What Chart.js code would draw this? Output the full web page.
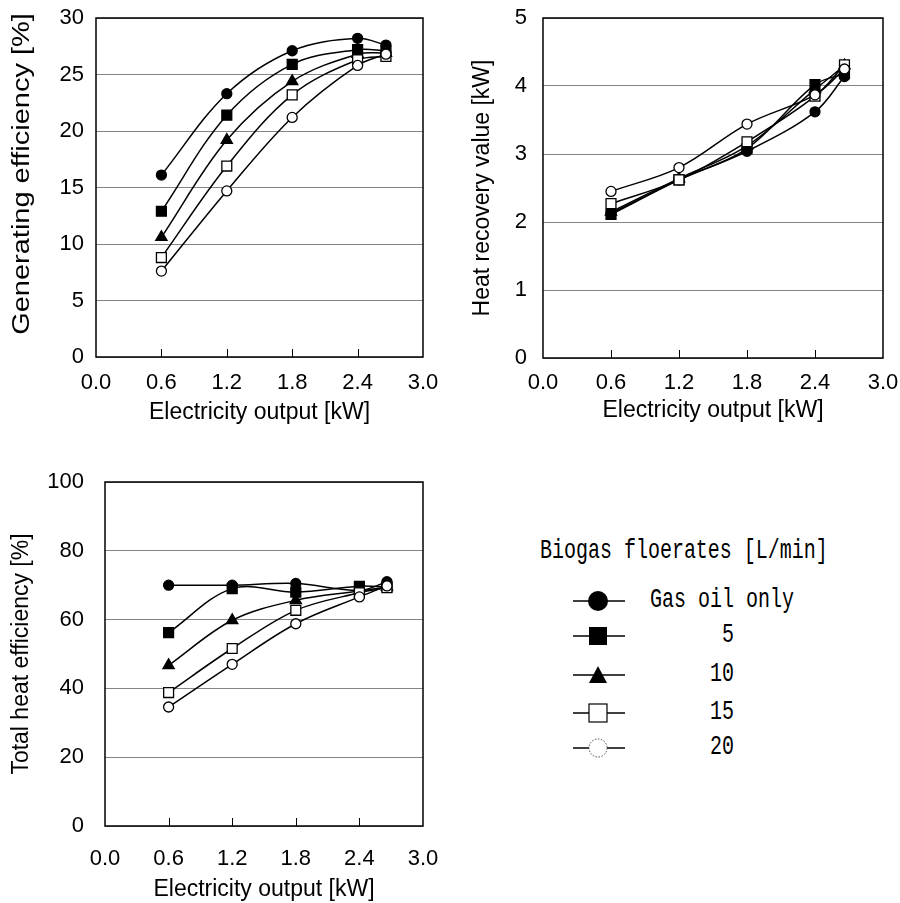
<!DOCTYPE html>
<html><head><meta charset="utf-8">
<script src="https://cdn.jsdelivr.net/npm/chart.js@4"></script>
<style>
html,body{margin:0;padding:0;background:#fff}
body{width:900px;height:903px;position:relative;overflow:hidden}
canvas{position:absolute}
.lg{position:absolute;font-family:"Liberation Mono","DejaVu Sans Mono",monospace;font-size:27px;line-height:27px;white-space:pre;transform:scaleX(0.74);transform-origin:0 50%;color:#000}
#icons{position:absolute;left:560px;top:580px}
</style></head><body>
<canvas id="c1" width="450" height="430" style="left:0;top:0"></canvas>
<canvas id="c2" width="450" height="430" style="left:450px;top:0"></canvas>
<canvas id="c3" width="450" height="463" style="left:0;top:440px"></canvas>
<div class="lg" style="left:540px;top:538px">Biogas floerates [L/min]</div>
<div class="lg" style="left:650px;top:587px">Gas oil only</div>
<div class="lg" style="left:650px;top:622px">      5</div>
<div class="lg" style="left:650px;top:661px">     10</div>
<div class="lg" style="left:650px;top:699px">     15</div>
<div class="lg" style="left:650px;top:734px">     20</div>
<svg id="icons" width="80" height="190" viewBox="0 0 80 190">
  <g stroke="#000" stroke-width="1.5">
    <line x1="13" y1="21" x2="65" y2="21"/>
    <line x1="13" y1="56" x2="65" y2="56"/>
    <line x1="13" y1="95" x2="65" y2="95"/>
    <line x1="13" y1="133" x2="65" y2="133"/>
    <line x1="13" y1="168" x2="29" y2="168"/>
    <line x1="47" y1="168" x2="65" y2="168"/>
  </g>
  <circle cx="38" cy="21" r="10" fill="#000"/>
  <rect x="29" y="47" width="18" height="18" fill="#000"/>
  <polygon points="38,86 47,103 29,103" fill="#000"/>
  <rect x="29" y="124" width="18" height="18" fill="#fff" stroke="#000" stroke-width="1.2"/>
  <circle cx="38" cy="168" r="9" fill="#fff" stroke="#444" stroke-width="1" stroke-dasharray="1.5 1.5"/>
</svg>
<script>
// ---------- data ----------
const xValues = [0.6, 1.2, 1.8, 2.4, 2.66];
const xTickLabels = ['0.0', '0.6', '1.2', '1.8', '2.4', '3.0'];
const seriesNames = ['Gas oil only', '5', '10', '15', '20'];

// Generating efficiency [%]
const genEffGasOil = [16.1, 23.3, 27.1, 28.2, 27.6];
const genEff5      = [12.9, 21.4, 25.9, 27.2, 27.1];
const genEff10     = [10.6, 19.2, 24.4, 26.8, 26.9];
const genEff15     = [8.8, 16.9, 23.2, 26.3, 26.6];
const genEff20     = [7.6, 14.7, 21.2, 25.8, 26.8];

// Heat recovery value [kW]
const heatRecGasOil = [2.13, 2.62, 3.04, 3.62, 4.14];
const heatRec5      = [2.11, 2.62, 3.08, 4.02, 4.18];
const heatRec10     = [2.15, 2.64, 3.12, 3.95, 4.30];
const heatRec15     = [2.27, 2.62, 3.18, 3.85, 4.31];
const heatRec20     = [2.45, 2.80, 3.44, 3.87, 4.25];

// Total heat efficiency [%]
const totEffGasOil = [70.0, 70.0, 70.5, 68.5, 71.0];
const totEff5      = [56.2, 69.0, 68.0, 69.7, 69.5];
const totEff10     = [46.7, 59.8, 65.6, 68.3, 69.5];
const totEff15     = [38.8, 51.6, 62.7, 67.8, 69.3];
const totEff20     = [34.6, 47.0, 58.8, 66.6, 69.8];

// ---------- styling ----------
Chart.defaults.font.family = '"Liberation Sans", Arial, sans-serif';
Chart.defaults.color = '#000';

const markerStyles = [
  {pointStyle: 'circle',   radius: 5,   fill: '#000'},
  {pointStyle: 'rect',     radius: 7,   fill: '#000'},
  {pointStyle: 'triangle', radius: 6.5, fill: '#000'},
  {pointStyle: 'rect',     radius: 7,   fill: '#fff'},
  {pointStyle: 'circle',   radius: 5,   fill: '#fff'}
];

const framePlugin = {
  id: 'frame',
  beforeDatasetsDraw(chart) {
    const {ctx, chartArea: a, scales} = chart;
    ctx.save();
    ctx.strokeStyle = '#000';
    ctx.lineWidth = 1.5;
    ctx.strokeRect(a.left, a.top, a.right - a.left, a.bottom - a.top);
    ctx.lineWidth = 1;
    ctx.beginPath();
    scales.x.ticks.forEach(t => {
      if (t.value <= 0.001 || t.value >= 2.999) return;
      const px = Math.round(scales.x.getPixelForValue(t.value)) + 0.5;
      ctx.moveTo(px, a.bottom);
      ctx.lineTo(px, a.bottom - 8);
    });
    ctx.stroke();
    ctx.restore();
  }
};

// stretched vertical axis title (the reference's first y title is elongated)
const stretchTitlePlugin = {
  id: 'stretchTitle',
  afterDraw(chart, args, opts) {
    if (!opts || !opts.text) return;
    const ctx = chart.ctx;
    ctx.save();
    ctx.translate(opts.x, opts.y);
    ctx.rotate(-Math.PI / 2);
    ctx.scale(opts.stretch, 1);
    ctx.font = '23px "Liberation Sans", Arial, sans-serif';
    ctx.fillStyle = '#000';
    ctx.textAlign = 'center';
    ctx.textBaseline = 'middle';
    ctx.fillText(opts.text, 0, 0);
    ctx.restore();
  }
};

function makeChart(id, series, yMin, yMax, yStep, yTitle, g) {
  const datasets = series.map((vals, i) => ({
    label: seriesNames[i],
    data: xValues.map((x, j) => ({x: x, y: vals[j]})),
    borderColor: '#000',
    borderWidth: 1.5,
    tension: 0.35,
    pointStyle: markerStyles[i].pointStyle,
    pointRadius: markerStyles[i].radius,
    pointBackgroundColor: markerStyles[i].fill,
    pointBorderColor: '#000',
    pointBorderWidth: 1.3,
    order: series.length - i
  }));
  const useStretch = !!g.stretch;
  return new Chart(document.getElementById(id), {
    type: 'line',
    data: {datasets},
    plugins: [framePlugin, stretchTitlePlugin],
    options: {
      responsive: false,
      animation: false,
      devicePixelRatio: 1,
      layout: {padding: g.pad},
      plugins: {
        legend: {display: false}, tooltip: {enabled: false},
        stretchTitle: useStretch ? {text: yTitle, x: g.stretch.x, y: g.stretch.y, stretch: g.stretch.k} : {}
      },
      scales: {
        x: {
          type: 'linear', min: 0, max: 3,
          afterBuildTicks(s) { s.ticks = xTickLabels.map(v => ({value: parseFloat(v)})); },
          ticks: {
            callback: (v, i) => xTickLabels[i],
            font: {size: 22, lineHeight: g.xTickLH + 'px'}, padding: 0, maxRotation: 0, autoSkip: false
          },
          grid: {display: false, drawTicks: false},
          border: {display: false},
          title: {display: true, text: 'Electricity output [kW]', font: {size: 23},
                  padding: {top: 0, bottom: g.xTitlePad}},
          afterFit(s) { s.height = g.xH; }
        },
        y: {
          min: yMin, max: yMax,
          ticks: {stepSize: yStep, font: {size: 22, lineHeight: 0.1}, padding: g.yTickPad},
          grid: {color: '#858585', lineWidth: 1, drawTicks: false},
          border: {display: false},
          title: {display: !useStretch, text: yTitle, font: {size: 23},
                  padding: {top: g.yTitlePad, bottom: 0}},
          afterFit(s) { s.width = g.yW; }
        }
      }
    }
  });
}

makeChart('c1', [genEffGasOil, genEff5, genEff10, genEff15, genEff20], 0, 30, 5,
  'Generating efficiency [%]',
  {pad: {top: 18, right: 27, left: 0, bottom: 0}, yW: 96, xH: 73,
   xTickLH: 52, xTitlePad: 4, yTickPad: 12, yTitlePad: 8,
   stretch: {x: 23, y: 174, k: 1.26}});

makeChart('c2', [heatRecGasOil, heatRec5, heatRec10, heatRec15, heatRec20], 0, 5, 1,
  'Heat recovery value [kW]',
  {pad: {top: 18, right: 17, left: 0, bottom: 0}, yW: 93, xH: 72,
   xTickLH: 50, xTitlePad: 6, yTickPad: 16, yTitlePad: 19});

makeChart('c3', [totEffGasOil, totEff5, totEff10, totEff15, totEff20], 0, 100, 20,
  'Total heat efficiency [%]',
  {pad: {top: 42, right: 27, left: 0, bottom: 0}, yW: 105, xH: 77,
   xTickLH: 66, xTitlePad: 0, yTickPad: 21, yTitlePad: 8});
</script>
</body></html>
